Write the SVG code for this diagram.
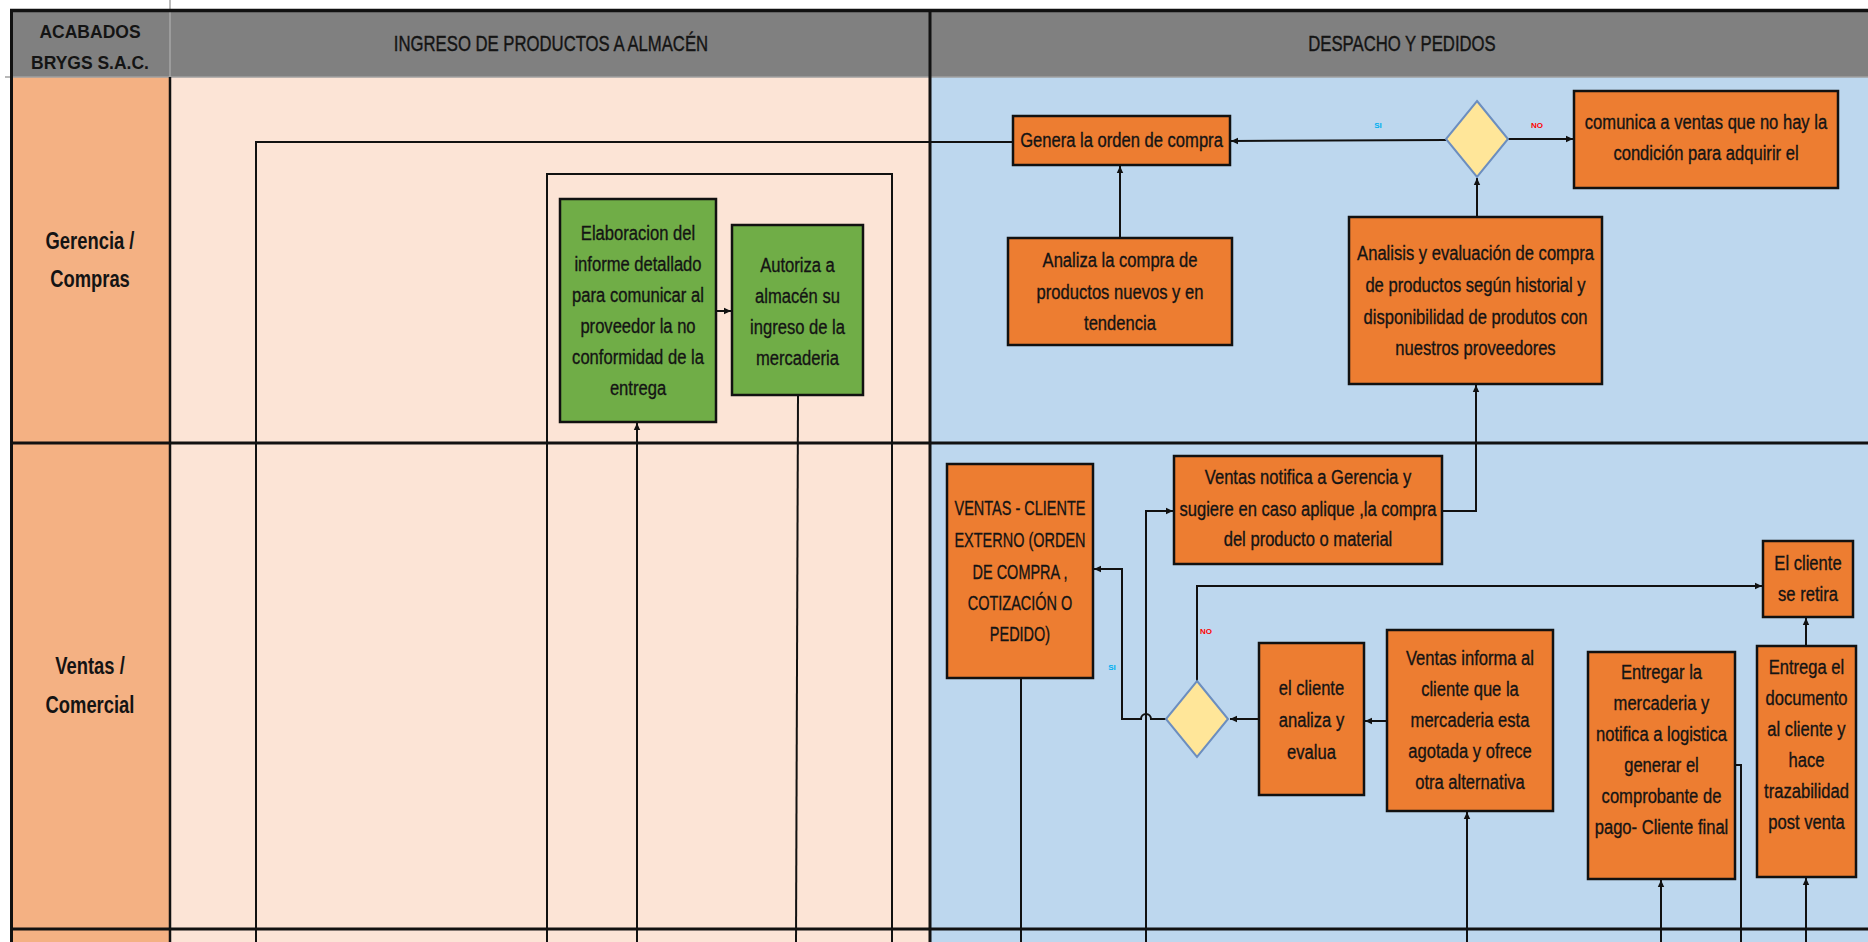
<svg xmlns="http://www.w3.org/2000/svg" width="1868" height="942" viewBox="0 0 1868 942">
<style>
.t{font-family:"Liberation Sans",Arial,sans-serif;font-size:21px;fill:#141414;stroke:#141414;stroke-width:0.35;text-anchor:middle}
.h{font-family:"Liberation Sans",Arial,sans-serif;font-size:22px;fill:#141414;stroke:#141414;stroke-width:0.4;text-anchor:middle}
.co{font-family:"Liberation Sans",Arial,sans-serif;font-size:17.5px;font-weight:bold;fill:#141414;text-anchor:middle}
.lb{font-family:"Liberation Sans",Arial,sans-serif;font-size:23px;font-weight:bold;fill:#141414;text-anchor:middle}
.box{fill:#ED7D31;stroke:#111;stroke-width:2.5}
.gbox{fill:#70AD47;stroke:#111;stroke-width:2.5}
.dia{fill:#FFE699;stroke:#6C8EBF;stroke-width:2}
.c{fill:none;stroke:#111;stroke-width:2}
.ca{fill:none;stroke:#111;stroke-width:2;marker-end:url(#a)}
.grid{stroke:#111;stroke-width:3;fill:none}
.si{font-family:"Liberation Sans",Arial,sans-serif;font-size:8px;font-weight:bold;fill:#00B0F0;text-anchor:middle}
.no{font-family:"Liberation Sans",Arial,sans-serif;font-size:8px;font-weight:bold;fill:#FF0000;text-anchor:middle}
</style>
<defs>
<marker id="a" markerWidth="8" markerHeight="8" refX="7" refY="4" orient="auto" markerUnits="userSpaceOnUse">
<path d="M0,0.8 L7,4 L0,7.2z" fill="#111"/>
</marker>
</defs>
<rect x="0" y="0" width="1868" height="942" fill="#fff"/>
<g id="lanes">
<rect x="11" y="11" width="1857" height="66" fill="#808080"/>
<rect x="11" y="77" width="159" height="865" fill="#F4B183"/>
<rect x="170" y="77" width="760" height="865" fill="#FCE4D6"/>
<rect x="930" y="77" width="938" height="865" fill="#BDD7EE"/>
<line x1="170" y1="0" x2="170" y2="77" stroke="#a6a6a6" stroke-width="1.5"/>
<line x1="5" y1="77" x2="1868" y2="77" stroke="#a0a0a0" stroke-width="1.5"/>
<line x1="10" y1="10.5" x2="1868" y2="10.5" stroke="#111" stroke-width="3.5"/>
<line x1="11.5" y1="9" x2="11.5" y2="942" class="grid"/>
<line x1="170" y1="77" x2="170" y2="942" stroke="#111" stroke-width="2.5"/>
<line x1="930" y1="10" x2="930" y2="942" class="grid"/>
<line x1="11" y1="443" x2="1868" y2="443" class="grid"/>
<line x1="11" y1="929" x2="1868" y2="929" class="grid"/>
<text class="co" x="90" y="38">ACABADOS</text>
<text class="co" x="90" y="69">BRYGS S.A.C.</text>
<text class="h" transform="matrix(0.76 0 0 1 132.24 0)" x="551" y="51">INGRESO DE PRODUCTOS A ALMACÉN</text>
<text class="h" transform="matrix(0.76 0 0 1 336.48 0)" x="1402" y="51">DESPACHO Y PEDIDOS</text>
<text class="lb" transform="matrix(0.8 0 0 1 18 0)"><tspan x="90" y="249">Gerencia /</tspan><tspan x="90" y="287">Compras</tspan></text>
<text class="lb" transform="matrix(0.8 0 0 1 18 0)"><tspan x="90" y="674">Ventas /</tspan><tspan x="90" y="713">Comercial</tspan></text>
</g>
<g id="connectors">
<polyline class="c" points="1013,142 256,142 256,942"/>
<polyline class="c" points="547,942 547,174 892,174 892,942" stroke="#333"/>
<line class="ca" x1="716" y1="311" x2="731" y2="311"/>
<line class="ca" x1="637" y1="942" x2="637" y2="423"/>
<line class="c" x1="798" y1="395" x2="796" y2="942"/>
<line class="ca" x1="1120" y1="238" x2="1120" y2="166"/>
<line class="ca" x1="1446" y1="140" x2="1231" y2="141"/>
<line class="ca" x1="1508" y1="139" x2="1573" y2="139"/>
<line class="ca" x1="1477" y1="217" x2="1477" y2="178"/>
<polyline class="ca" points="1442,511 1476,511 1476,385"/>
<polyline class="ca" points="1146,942 1146,511 1173,511"/>
<path class="ca" d="M1166,719 L1151,719 A5,5 0 0 0 1141,719 L1122,719 L1122,569 L1094,569"/>
<polyline class="ca" points="1197,681 1197,586 1762,586"/>
<line class="ca" x1="1259" y1="719" x2="1230" y2="719"/>
<line class="ca" x1="1387" y1="721" x2="1365" y2="721"/>
<line class="c" x1="1021" y1="678" x2="1021" y2="942"/>
<line class="ca" x1="1467" y1="942" x2="1467" y2="812"/>
<line class="ca" x1="1661" y1="942" x2="1661" y2="880"/>
<polyline class="c" points="1735,765 1741,765 1741,942"/>
<line class="ca" x1="1806" y1="942" x2="1806" y2="878"/>
<line class="ca" x1="1806" y1="646" x2="1806" y2="618"/>
<text class="si" x="1378" y="128">SI</text>
<text class="no" x="1537" y="128">NO</text>
<text class="si" x="1112" y="670">SI</text>
<text class="no" x="1206" y="634">NO</text>
</g>
<g id="n-elaboracion">
<rect class="gbox" x="560" y="199" width="156" height="223"/>
<text class="t" transform="matrix(0.79 0 0 1 133.98 0)"><tspan x="638" y="240">Elaboracion del</tspan><tspan x="638" y="271">informe detallado</tspan><tspan x="638" y="302">para comunicar al</tspan><tspan x="638" y="333">proveedor la no</tspan><tspan x="638" y="364">conformidad de la</tspan><tspan x="638" y="395">entrega</tspan></text>
</g>
<g id="n-autoriza">
<rect class="gbox" x="732" y="225" width="131" height="170"/>
<text class="t" transform="matrix(0.79 0 0 1 167.48 0)"><tspan x="797.5" y="272">Autoriza a</tspan><tspan x="797.5" y="303">almacén su</tspan><tspan x="797.5" y="334">ingreso de la</tspan><tspan x="797.5" y="365">mercaderia</tspan></text>
</g>
<g id="n-genera">
<rect class="box" x="1013" y="116" width="217" height="49"/>
<text class="t" transform="matrix(0.79 0 0 1 235.52 0)" x="1121.5" y="147">Genera la orden de compra</text>
</g>
<g id="n-analiza">
<rect class="box" x="1008" y="238" width="224" height="107"/>
<text class="t" transform="matrix(0.79 0 0 1 235.2 0)"><tspan x="1120" y="267">Analiza la compra de</tspan><tspan x="1120" y="299">productos nuevos y en</tspan><tspan x="1120" y="330">tendencia</tspan></text>
</g>
<g id="n-decision1">
<polygon class="dia" points="1477,101 1508,139 1477,177 1446,139"/>
</g>
<g id="n-comunica">
<rect class="box" x="1574" y="91" width="264" height="97"/>
<text class="t" transform="matrix(0.79 0 0 1 358.26 0)"><tspan x="1706" y="129">comunica a ventas que no hay la</tspan><tspan x="1706" y="160">condición para adquirir el</tspan></text>
</g>
<g id="n-analisis">
<rect class="box" x="1349" y="217" width="253" height="167"/>
<text class="t" transform="matrix(0.79 0 0 1 309.86 0)"><tspan x="1475.5" y="260">Analisis y evaluación de compra</tspan><tspan x="1475.5" y="292">de productos según historial y</tspan><tspan x="1475.5" y="324">disponibilidad de produtos con</tspan><tspan x="1475.5" y="355">nuestros proveedores</tspan></text>
</g>
<g id="n-ventas-cliente">
<rect class="box" x="947" y="464" width="146" height="214"/>
<text class="t" transform="matrix(0.69 0 0 1 316.2 0)"><tspan x="1020" y="515">VENTAS - CLIENTE</tspan><tspan x="1020" y="547">EXTERNO (ORDEN</tspan><tspan x="1020" y="579">DE COMPRA ,</tspan><tspan x="1020" y="610">COTIZACIÓN O</tspan><tspan x="1020" y="641">PEDIDO)</tspan></text>
</g>
<g id="n-ventas-notifica">
<rect class="box" x="1174" y="456" width="268" height="108"/>
<text class="t" transform="matrix(0.79 0 0 1 274.68 0)"><tspan x="1308" y="484">Ventas notifica a Gerencia y</tspan><tspan x="1308" y="516">sugiere en caso aplique ,la compra</tspan><tspan x="1308" y="546">del producto o material</tspan></text>
</g>
<g id="n-retira">
<rect class="box" x="1763" y="541" width="90" height="76"/>
<text class="t" transform="matrix(0.79 0 0 1 379.68 0)"><tspan x="1808" y="570">El cliente</tspan><tspan x="1808" y="601">se retira</tspan></text>
</g>
<g id="n-decision2">
<polygon class="dia" points="1197,681 1228,719 1197,757 1166,719"/>
</g>
<g id="n-analiza-cliente">
<rect class="box" x="1259" y="643" width="105" height="152"/>
<text class="t" transform="matrix(0.79 0 0 1 275.42 0)"><tspan x="1311.5" y="695">el cliente</tspan><tspan x="1311.5" y="727">analiza y</tspan><tspan x="1311.5" y="759">evalua</tspan></text>
</g>
<g id="n-informa">
<rect class="box" x="1387" y="630" width="166" height="181"/>
<text class="t" transform="matrix(0.79 0 0 1 308.7 0)"><tspan x="1470" y="665">Ventas informa al</tspan><tspan x="1470" y="696">cliente que la</tspan><tspan x="1470" y="727">mercaderia esta</tspan><tspan x="1470" y="758">agotada y ofrece</tspan><tspan x="1470" y="789">otra alternativa</tspan></text>
</g>
<g id="n-entregar">
<rect class="box" x="1588" y="652" width="147" height="227"/>
<text class="t" transform="matrix(0.79 0 0 1 348.92 0)"><tspan x="1661.5" y="679">Entregar la</tspan><tspan x="1661.5" y="710">mercaderia y</tspan><tspan x="1661.5" y="741">notifica a logistica</tspan><tspan x="1661.5" y="772">generar el</tspan><tspan x="1661.5" y="803">comprobante de</tspan><tspan x="1661.5" y="834">pago- Cliente final</tspan></text>
</g>
<g id="n-entrega-doc">
<rect class="box" x="1757" y="646" width="99" height="231"/>
<text class="t" transform="matrix(0.79 0 0 1 379.37 0)"><tspan x="1806.5" y="674">Entrega el</tspan><tspan x="1806.5" y="705">documento</tspan><tspan x="1806.5" y="736">al cliente y</tspan><tspan x="1806.5" y="767">hace</tspan><tspan x="1806.5" y="798">trazabilidad</tspan><tspan x="1806.5" y="829">post venta</tspan></text>
</g>
</svg>
